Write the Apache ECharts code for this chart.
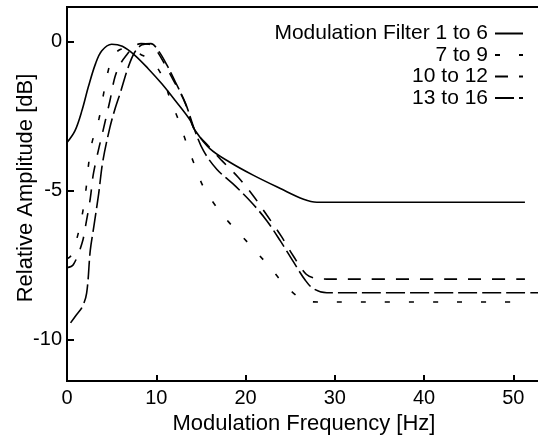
<!DOCTYPE html>
<html>
<head>
<meta charset="utf-8">
<script src="https://cdn.jsdelivr.net/npm/echarts@6/dist/echarts.min.js"></script>
<style>
  html, body { margin: 0; padding: 0; background: #fff; }
  #chart { width: 538px; height: 438px; }
</style>
</head>
<body>
<div id="chart"></div>
<script>
// Modulation Filter 1 to 6 (solid)
const freq1to6 = [0, 0.9, 1.7, 2.4, 3.2, 3.9, 5.0, 6.2, 7.6, 9.1, 10.6, 12.1, 13.8, 14.3, 16.0, 18.2, 20.9, 23.9, 26.5, 28.0, 30.0, 51.3]
const amp1to6 = [-3.4, -3.0, -2.3, -1.52, -0.75, -0.32, -0.1, -0.17, -0.47, -0.92, -1.42, -1.98, -2.65, -2.97, -3.6, -4.05, -4.5, -4.94, -5.3, -5.4, -5.4, -5.4]

// 7 to 9 (short dashes)
const freq7to9 = [0, 0.48, 1.23, 1.76, 2.16, 2.43, 2.8, 3.58, 4.07, 4.63, 5.2, 5.8, 6.5, 7.2, 8.3, 9.5, 10.8, 11.5, 12.5, 13.4, 14.3, 15.3, 16.6, 18.1, 19.6, 21.2, 22.7, 24.2, 25.9, 27.0, 28.1, 30.0, 51.3]
const amp7to9 = [-7.3, -7.18, -6.48, -5.73, -4.89, -4.1, -3.4, -2.6, -1.81, -0.97, -0.5, -0.3, -0.25, -0.33, -0.45, -0.66, -1.25, -1.9, -2.65, -3.43, -4.16, -4.9, -5.5, -6.06, -6.54, -7.07, -7.57, -8.11, -8.58, -8.72, -8.75, -8.75, -8.75]

// 10 to 12 (medium dashes)
const freq10to12 = [0, 0.7, 1.68, 2.13, 2.61, 2.99, 4.26, 4.82, 5.37, 6.0, 6.7, 7.5, 8.3, 9.2, 10.0, 11.0, 12.0, 13.2, 14.3, 15.8, 17.3, 19.2, 20.9, 22.4, 24.0, 25.3, 26.8, 27.8, 29.1, 51.3]
const amp10to12 = [-7.6, -7.5, -6.78, -6.11, -5.27, -4.39, -2.71, -1.98, -1.2, -0.75, -0.45, -0.18, -0.08, -0.1, -0.3, -0.8, -1.35, -2.05, -2.98, -3.5, -3.99, -4.57, -5.2, -5.84, -6.54, -7.18, -7.82, -7.95, -7.98, -7.98]

// 13 to 16 (long dashes)
const freq13to16 = [0.4, 1.0, 1.7, 2.2, 2.61, 3.0, 3.55, 4.0, 4.8, 5.4, 5.94, 6.87, 7.6, 8.4, 9.4, 10.2, 11.2, 12.2, 13.3, 14.3, 15.3, 16.8, 18.9, 20.8, 22.4, 23.9, 25.3, 26.7, 27.6, 29.1, 52.8]
const amp13to16 = [-9.45, -9.2, -8.92, -8.45, -7.01, -6.23, -5.11, -4.05, -2.9, -2.25, -1.76, -0.86, -0.36, -0.12, -0.08, -0.3, -0.8, -1.4, -2.1, -2.98, -3.68, -4.3, -4.87, -5.45, -6.03, -6.7, -7.37, -8.02, -8.3, -8.44, -8.44]

// tick spacing: x every 10 Hz, y every 5 dB
const xStep = 10
const yStep = 5

const names = ['Modulation Filter 1 to 6', '7 to 9', '10 to 12', '13 to 16']
const dashes = ['solid', [5, 19], [13, 11], [19, 5]]

function pairs(xs, ys) {
  return xs.map((x, i) => [x, ys[i]])
}

const curves = [
  pairs(freq1to6, amp1to6),
  pairs(freq7to9, amp7to9),
  pairs(freq10to12, amp10to12),
  pairs(freq13to16, amp13to16)
]

const font = 'Liberation Sans, Arial, sans-serif'

const option = {
  animation: false,
  backgroundColor: '#fff',
  grid: {
    left: 67, right: -3, top: 7, bottom: 57,
    show: true, borderColor: '#000', borderWidth: 2, backgroundColor: 'transparent',
    containLabel: false, outerBoundsMode: 'none'
  },
  legend: {
    orient: 'vertical',
    right: 9,
    top: 18,
    align: 'right',
    itemWidth: 28,
    itemHeight: 14,
    itemGap: 0.5,
    itemStyle: { opacity: 0 },
    textStyle: { color: '#000', fontSize: 21, fontFamily: font, padding: [0, 2, 0, 0] },
    data: names
  },
  xAxis: {
    type: 'value',
    min: 0,
    max: 53.1,
    minInterval: xStep,
    maxInterval: xStep,
    position: 'bottom',
    name: 'Modulation Frequency [Hz]',
    nameLocation: 'middle',
    nameGap: 24,
    nameTextStyle: { color: '#000', fontSize: 22, fontFamily: font },
    axisLine: { show: true, onZero: false, lineStyle: { color: '#000', width: 2 } },
    axisTick: { show: true, inside: true, length: 6, lineStyle: { color: '#000', width: 2 } },
    axisLabel: { showMaxLabel: false, margin: 7, color: '#000', fontSize: 20, fontFamily: font },
    splitLine: { show: false }
  },
  yAxis: {
    type: 'value',
    min: -11.4,
    max: 1.15,
    minInterval: yStep,
    maxInterval: yStep,
    name: 'Relative Amplitude [dB]',
    nameLocation: 'middle',
    nameGap: 30,
    nameMoveOverlap: false,
    nameTextStyle: { color: '#000', fontSize: 22, fontFamily: font, padding: [0, 0, 0, 12] },
    axisLine: { show: true, onZero: false, lineStyle: { color: '#000', width: 2 } },
    axisTick: { show: true, inside: true, length: 7, lineStyle: { color: '#000', width: 2 } },
    axisLabel: { showMinLabel: false, showMaxLabel: false, margin: 5, color: '#000', fontSize: 20, fontFamily: font },
    splitLine: { show: false }
  },
  series: names.map((name, i) => ({
    name: name,
    type: 'line',
    data: curves[i],
    symbol: 'none',
    showSymbol: false,
    smooth: 0.35,
    lineStyle: { color: '#000', width: 1.6, type: dashes[i] },
    itemStyle: { color: '#000' }
  }))
}

const myChart = echarts.init(document.getElementById('chart'))
myChart.setOption(option)
</script>
</body>
</html>
